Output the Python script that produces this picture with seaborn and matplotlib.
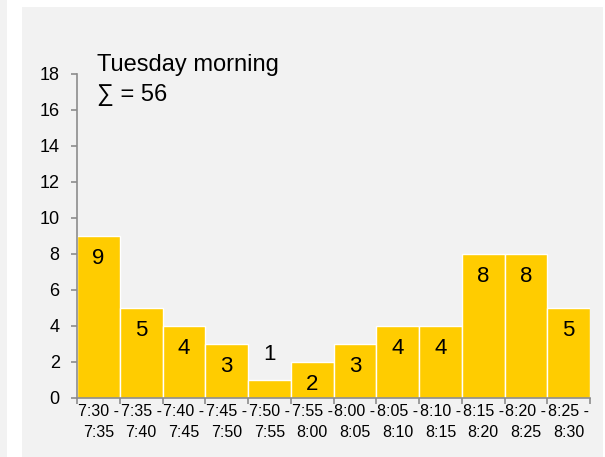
import pandas as pd
import matplotlib
matplotlib.use("Agg")
import matplotlib.pyplot as plt
import seaborn as sns
from matplotlib.patches import Rectangle

# data
starts = ["7:30", "7:35", "7:40", "7:45", "7:50", "7:55",
          "8:00", "8:05", "8:10", "8:15", "8:20", "8:25"]
ends = ["7:35", "7:40", "7:45", "7:50", "7:55", "8:00",
        "8:05", "8:10", "8:15", "8:20", "8:25", "8:30"]
counts = [9, 5, 4, 3, 1, 2, 3, 4, 4, 8, 8, 5]
title = "Tuesday morning"

slots = [f"{s} -\n{e}" for s, e in zip(starts, ends)]
df = pd.DataFrame({"slot": slots, "count": counts})

sns.set_style("white")
plt.rcParams["font.family"] = ["Liberation Sans", "DejaVu Sans"]
plt.rcParams["text.color"] = "black"
plt.rcParams["xtick.labelcolor"] = "black"
plt.rcParams["ytick.labelcolor"] = "black"

bg = "#f2f2f2"
grey = "#8c8c8c"
W, H = 605, 457
fig = plt.figure(figsize=(W / 100, H / 100), dpi=100, facecolor="white")
# panel backgrounds
fig.patches.append(Rectangle((0, 0), 7 / W, 1, transform=fig.transFigure,
                             facecolor=bg, edgecolor="none", zorder=-2))
fig.patches.append(Rectangle((22 / W, 0), 581 / W, (H - 7) / H,
                             transform=fig.transFigure, facecolor=bg,
                             edgecolor="none", zorder=-2))

ax = fig.add_axes([77 / W, (H - 398) / H, 513 / W, 324 / H])
ax.set_facecolor("none")

sns.barplot(data=df, x="slot", y="count", color="#ffcc00", saturation=1,
            width=1, edgecolor="white", linewidth=1, ax=ax)

ax.set_xlim(-0.5, len(counts) - 0.5)
ax.set_ylim(0, 18)
ax.set_yticks(range(0, 19, 2))
ax.set_xlabel("")
ax.set_ylabel("")

for side in ["top", "right"]:
    ax.spines[side].set_visible(False)
for side in ["left", "bottom"]:
    ax.spines[side].set_color(grey)
    ax.spines[side].set_linewidth(1.2)

ax.tick_params(axis="y", which="major", length=4.5, width=1.2, color=grey,
               labelsize=13, pad=8, left=True)
ax.tick_params(axis="x", which="major", length=0, labelsize=11.5, pad=4)
ax.set_xticks([i - 0.5 for i in range(len(counts) + 1)], minor=True)
ax.tick_params(axis="x", which="minor", length=4.5, width=1.2, color=grey,
               bottom=True)
for lab in ax.get_xticklabels():
    lab.set_linespacing(1.55)

# value labels
for i, v in enumerate(counts):
    if v >= 2:
        ax.annotate(str(v), (i, v), xytext=(0, -16), textcoords="offset points",
                    ha="center", va="center", fontsize=16)
    else:
        ax.annotate(str(v), (i, v), xytext=(0, 18), textcoords="offset points",
                    ha="center", va="center", fontsize=16)

fig.text(97 / W, 1 - 71 / H, title, fontsize=17, va="baseline", ha="left")
fig.text(97 / W, 1 - 101 / H, f"\u2211 = {sum(counts)}", fontsize=17,
         va="baseline", ha="left")

fig.savefig("out.png", dpi=100, facecolor="white")
